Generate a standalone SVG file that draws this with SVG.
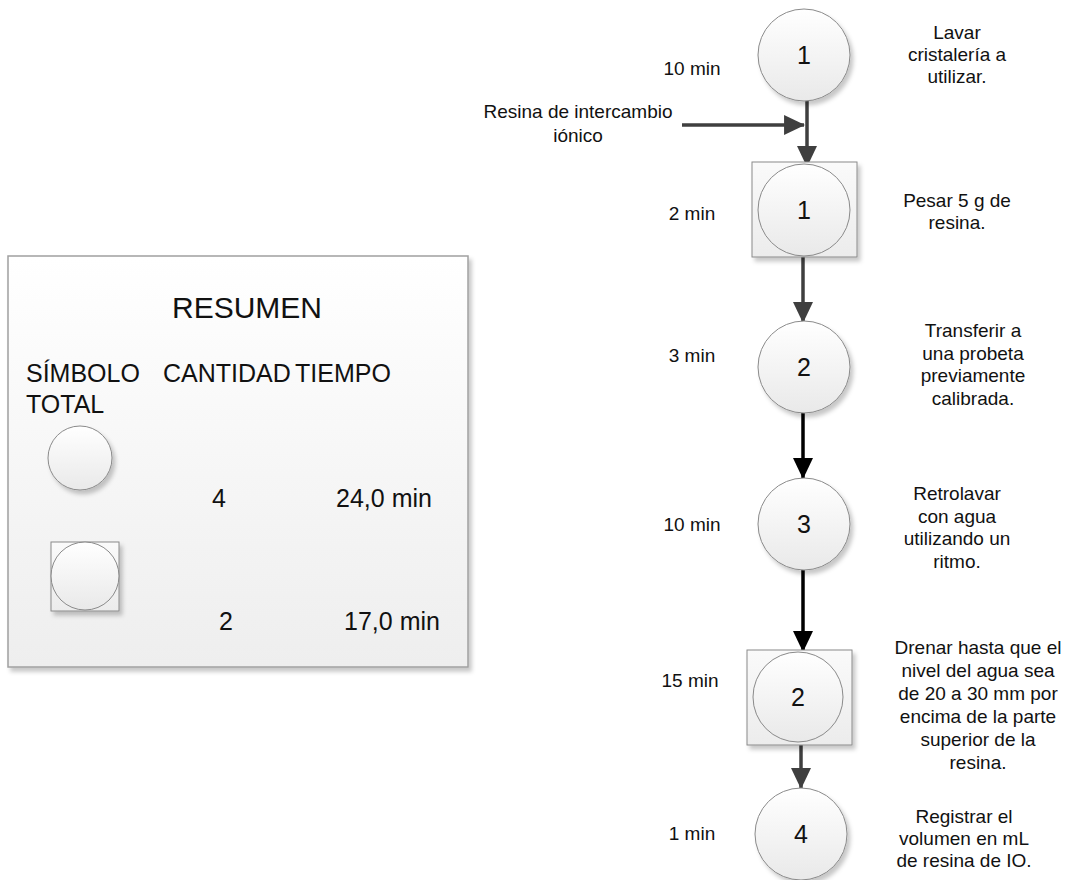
<svg xmlns="http://www.w3.org/2000/svg" width="1065" height="880" viewBox="0 0 1065 880">
<style>
text{font-family:"Liberation Sans",Arial,sans-serif;fill:#111}
.lbl{font-size:19px;text-anchor:middle}
.num{font-size:25px;text-anchor:middle}
.sum{font-size:25px}
.circ{fill:url(#gc);stroke:#8a8a8a;stroke-width:1;filter:url(#sh)}
.sq{fill:url(#gs);stroke:#8a8a8a;stroke-width:1;filter:url(#sh)}
.cg{stroke:#3f3f3f;stroke-width:3.5;fill:none;marker-end:url(#ag)}
.cb{stroke:#000;stroke-width:3.5;fill:none;marker-end:url(#ab)}
</style>
<defs>
<linearGradient id="gc" x1="0" y1="0" x2="0" y2="1"><stop offset="0" stop-color="#ffffff"/><stop offset="1" stop-color="#e9e9e9"/></linearGradient>
<linearGradient id="gs" x1="0" y1="0" x2="0" y2="1"><stop offset="0" stop-color="#fafafa"/><stop offset="1" stop-color="#ececec"/></linearGradient>
<linearGradient id="gb" x1="0" y1="0" x2="0" y2="1"><stop offset="0" stop-color="#ffffff"/><stop offset="1" stop-color="#eeeeee"/></linearGradient>
<filter id="sh" x="-20%" y="-20%" width="150%" height="150%"><feDropShadow dx="3" dy="4" stdDeviation="2" flood-color="#000" flood-opacity="0.22"/></filter>
<marker id="ag" viewBox="0 0 10 10" refX="9.5" refY="5" markerUnits="userSpaceOnUse" markerWidth="21" markerHeight="20" orient="auto" preserveAspectRatio="none"><path d="M0,0 L10,5 L0,10 z" fill="#3f3f3f"/></marker>
<marker id="ab" viewBox="0 0 10 10" refX="9.5" refY="5" markerUnits="userSpaceOnUse" markerWidth="21" markerHeight="20" orient="auto" preserveAspectRatio="none"><path d="M0,0 L10,5 L0,10 z" fill="#000"/></marker>
</defs>

<g id="summary">
<rect x="8" y="256" width="460" height="411" fill="url(#gb)" stroke="#a0a0a0" stroke-width="1.5" filter="url(#sh)"/>
<text x="247" y="318" font-size="30" text-anchor="middle">RESUMEN</text>
<text class="sum" x="26" y="382">SÍMBOLO</text>
<text class="sum" x="163" y="382">CANTIDAD</text>
<text class="sum" x="295" y="382">TIEMPO</text>
<text class="sum" x="26" y="413">TOTAL</text>
<circle class="circ" cx="80" cy="458" r="32"/>
<rect class="sq" x="51" y="542" width="68" height="69"/>
<circle cx="85" cy="576" r="34" fill="url(#gc)" stroke="#8a8a8a" stroke-width="1"/>
<text class="sum" x="219" y="507" text-anchor="middle">4</text>
<text class="sum" x="384" y="507" text-anchor="middle">24,0 min</text>
<text class="sum" x="226" y="630" text-anchor="middle">2</text>
<text class="sum" x="392" y="630" text-anchor="middle">17,0 min</text>
</g>

<g id="input">
<text class="lbl" x="578" y="118">Resina de intercambio</text>
<text class="lbl" x="578" y="142">iónico</text>
</g>

<g id="connectors">
<line class="cg" x1="682" y1="125" x2="804" y2="125"/>
<line class="cg" x1="807" y1="101" x2="807" y2="166"/>
<line class="cg" x1="803" y1="257" x2="803" y2="322"/>
<line class="cb" x1="803" y1="413" x2="803" y2="478"/>
<line class="cb" x1="803" y1="570" x2="803" y2="651"/>
<line class="cg" x1="801" y1="745" x2="801" y2="788"/>
</g>

<g id="op1">
<circle class="circ" cx="804" cy="55" r="46"/>
<text class="num" x="804" y="64">1</text>
<text class="lbl" x="692" y="75">10 min</text>
<text class="lbl" x="957" y="39">Lavar</text>
<text class="lbl" x="957" y="61">cristalería a</text>
<text class="lbl" x="957" y="83">utilizar.</text>
</g>

<g id="opinsp1">
<rect class="sq" x="752" y="162" width="105" height="95"/>
<circle cx="804" cy="210" r="46" fill="url(#gc)" stroke="#8a8a8a" stroke-width="1"/>
<text class="num" x="804" y="219">1</text>
<text class="lbl" x="692" y="220">2 min</text>
<text class="lbl" x="957" y="207">Pesar 5 g de</text>
<text class="lbl" x="957" y="229">resina.</text>
</g>

<g id="op2">
<circle class="circ" cx="804" cy="367" r="46"/>
<text class="num" x="804" y="376">2</text>
<text class="lbl" x="692" y="362">3 min</text>
<text class="lbl" x="973" y="337">Transferir a</text>
<text class="lbl" x="973" y="359.5">una probeta</text>
<text class="lbl" x="973" y="382">previamente</text>
<text class="lbl" x="973" y="404.5">calibrada.</text>
</g>

<g id="op3">
<circle class="circ" cx="804" cy="524" r="46"/>
<text class="num" x="804" y="533">3</text>
<text class="lbl" x="692" y="531">10 min</text>
<text class="lbl" x="957" y="500">Retrolavar</text>
<text class="lbl" x="957" y="522.5">con agua</text>
<text class="lbl" x="957" y="545">utilizando un</text>
<text class="lbl" x="957" y="567.5">ritmo.</text>
</g>

<g id="opinsp2">
<rect class="sq" x="747" y="650" width="105" height="95"/>
<circle cx="798" cy="697" r="45" fill="url(#gc)" stroke="#8a8a8a" stroke-width="1"/>
<text class="num" x="798" y="706">2</text>
<text class="lbl" x="690" y="687">15 min</text>
<text class="lbl" x="978" y="654">Drenar hasta que el</text>
<text class="lbl" x="978" y="677">nivel del agua sea</text>
<text class="lbl" x="978" y="700">de 20 a 30 mm por</text>
<text class="lbl" x="978" y="723">encima de la parte</text>
<text class="lbl" x="978" y="746">superior de la</text>
<text class="lbl" x="978" y="769">resina.</text>
</g>

<g id="op4">
<circle class="circ" cx="801" cy="834" r="46"/>
<text class="num" x="801" y="843">4</text>
<text class="lbl" x="692" y="840">1 min</text>
<text class="lbl" x="964" y="823">Registrar el</text>
<text class="lbl" x="964" y="845">volumen en mL</text>
<text class="lbl" x="964" y="867">de resina de IO.</text>
</g>
</svg>
